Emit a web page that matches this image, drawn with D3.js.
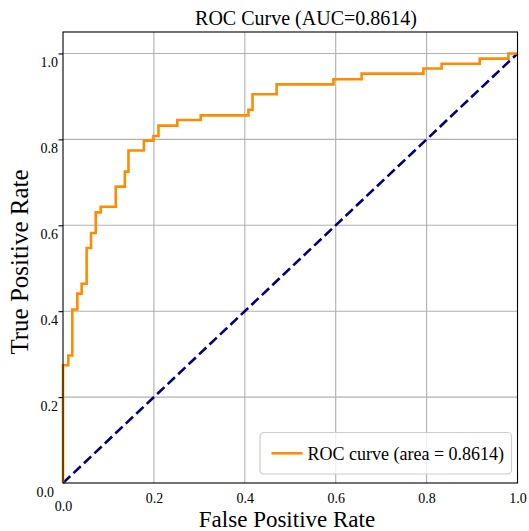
<!DOCTYPE html>
<html>
<head>
<meta charset="utf-8">
<script src="https://cdn.jsdelivr.net/npm/d3@7"></script>
<style>
  body { margin: 0; background: #fff; }
  svg { display: block; font-family: "Liberation Serif", "Times New Roman", serif; }
</style>
</head>
<body>
<div class="container"></div>
<script>
// roc curve vertices
const fpr = [0, 0, 0.0117, 0.0117, 0.0205, 0.0205, 0.0315, 0.0315, 0.041, 0.041,
  0.052, 0.052, 0.0616, 0.0616, 0.072, 0.072, 0.083, 0.083, 0.116, 0.116,
  0.136, 0.136, 0.144, 0.144, 0.178, 0.178, 0.199, 0.199, 0.210, 0.210,
  0.2515, 0.2515, 0.303, 0.303, 0.408, 0.408, 0.417, 0.417, 0.470, 0.470,
  0.595, 0.595, 0.657, 0.657, 0.793, 0.793, 0.833, 0.833, 0.917, 0.917,
  0.980, 0.980, 1.0]
const tpr = [0, 0.274, 0.274, 0.297, 0.297, 0.404, 0.404, 0.441, 0.441, 0.464,
  0.464, 0.547, 0.547, 0.582, 0.582, 0.630, 0.630, 0.643, 0.643, 0.690,
  0.690, 0.725, 0.725, 0.774, 0.774, 0.797, 0.797, 0.808, 0.808, 0.832,
  0.832, 0.845, 0.845, 0.856, 0.856, 0.869, 0.869, 0.905, 0.905, 0.928,
  0.928, 0.940, 0.940, 0.953, 0.953, 0.965, 0.965, 0.976, 0.976, 0.988,
  0.988, 1.0, 1.0]
const diagX = [0, 1]
const diagY = [0, 1]
const ticks = [0, 0.2, 0.4, 0.6, 0.8, 1.0]
const auc = 0.8614

const w = 529
const h = 531
const m = {l: 63, r: 11.5, t: 32, b: 48}

const svg = d3.select('.container')
              .append('svg')
              .attr('width', w)
              .attr('height', h)

const xScale = d3.scaleLinear().domain([0, 1]).range([m.l, w - m.r])
const yScale = d3.scaleLinear().domain([0, 1.05]).range([h - m.b, m.t])

// 网格
svg.append('g')
   .selectAll('line')
   .data(ticks.slice(1, -1))
   .enter()
   .append('line')
   .attr('x1', d => xScale(d)).attr('x2', d => xScale(d))
   .attr('y1', m.t).attr('y2', h - m.b)
   .attr('stroke', '#b0b0b0').attr('stroke-width', 1.1)
svg.append('g')
   .selectAll('line')
   .data(ticks.slice(1))
   .enter()
   .append('line')
   .attr('x1', m.l).attr('x2', w - m.r)
   .attr('y1', d => yScale(d)).attr('y2', d => yScale(d))
   .attr('stroke', '#b0b0b0').attr('stroke-width', 1.1)

// 曲线
const line = d3.line().x(d => xScale(d[0])).y(d => yScale(d[1]))
svg.append('path')
   .datum(d3.zip(diagX, diagY))
   .attr('d', line)
   .attr('fill', 'none')
   .attr('stroke', '#000080')
   .attr('stroke-width', 2.6)
   .attr('stroke-dasharray', '10,4.4')
svg.append('path')
   .datum(d3.zip(fpr, tpr))
   .attr('d', line)
   .attr('fill', 'none')
   .attr('stroke', '#ff8c00')
   .attr('stroke-width', 2.6)

// 边框
svg.append('rect')
   .attr('x', m.l).attr('y', m.t)
   .attr('width', w - m.r - m.l).attr('height', h - m.b - m.t)
   .attr('fill', 'none').attr('stroke', '#000').attr('stroke-width', 1.1)

// 坐标轴
const xAxis = d3.axisBottom(xScale).tickValues(ticks).tickFormat(d3.format('.1f')).tickSize(0)
const yAxis = d3.axisLeft(yScale).tickValues(ticks).tickFormat(d3.format('.1f')).tickSizeInner(4.5).tickSizeOuter(0)

const gx = svg.append('g')
   .attr('class', 'x-axis')
   .attr('transform', 'translate(0,' + (h - m.b) + ')')
   .call(xAxis)
gx.select('.domain').remove()
gx.selectAll('text')
  .attr('y', 16).attr('dy', '0.32em')
  .attr('font-size', 14).attr('font-family', 'Liberation Serif').attr('fill', '#000')
gx.selectAll('text').filter(d => d === 0).attr('y', 24)

const gy = svg.append('g')
   .attr('class', 'y-axis')
   .attr('transform', 'translate(' + m.l + ',0)')
   .call(yAxis)
gy.select('.domain').remove()
gy.selectAll('line').attr('stroke', '#000').attr('stroke-width', 1.1)
gy.selectAll('text')
  .attr('x', -5).attr('y', 9).attr('dy', '0.32em')
  .attr('font-size', 14).attr('font-family', 'Liberation Serif').attr('fill', '#000')
gy.selectAll('text').filter(d => d === 0).attr('x', -9)
gy.selectAll('.tick').filter(d => d === 0).select('line').remove()

// 标题
svg.append('text')
   .attr('x', 306).attr('y', 24.5)
   .attr('text-anchor', 'middle')
   .attr('font-size', 20)
   .text('ROC Curve (AUC=' + auc + ')')
svg.append('text')
   .attr('x', 287).attr('y', 527)
   .attr('text-anchor', 'middle')
   .attr('font-size', 23)
   .text('False Positive Rate')
svg.append('text')
   .attr('transform', 'translate(28,262) rotate(-90)')
   .attr('text-anchor', 'middle')
   .attr('font-size', 25)
   .text('True Positive Rate')

// 图例
const legend = svg.append('g').attr('class', 'legend')
legend.append('rect')
      .attr('x', 260).attr('y', 432.5)
      .attr('width', 251.5).attr('height', 41.5)
      .attr('rx', 4)
      .attr('fill', '#fff').attr('fill-opacity', 0.8)
      .attr('stroke', '#cccccc').attr('stroke-width', 1.2)
legend.append('line')
      .attr('x1', 271.5).attr('x2', 302.5)
      .attr('y1', 453.3).attr('y2', 453.3)
      .attr('stroke', '#ff8c00').attr('stroke-width', 2.6)
legend.append('text')
      .attr('x', 307.5).attr('y', 459.5)
      .attr('font-size', 18)
      .text('ROC curve (area = ' + auc + ')')
</script>
</body>
</html>
